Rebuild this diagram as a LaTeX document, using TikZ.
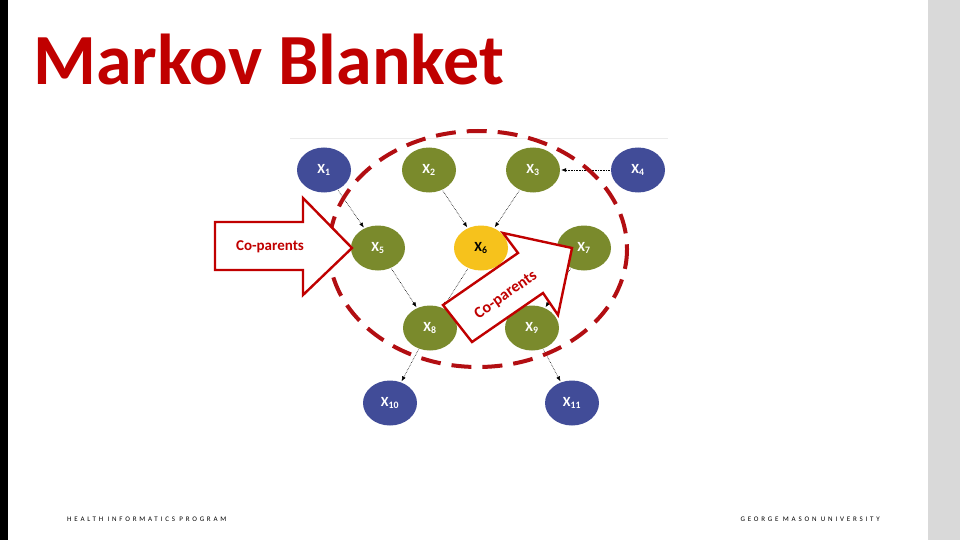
\documentclass[tikz,border=0pt]{standalone}
\usepackage{fontspec}
\setmainfont{Carlito}
\usetikzlibrary{arrows.meta,shapes.geometric}
\definecolor{nblue}{HTML}{414C98}
\definecolor{ngreen}{HTML}{7A8A2C}
\definecolor{nyellow}{HTML}{F6C21C}
\definecolor{mred}{HTML}{C00000}
\definecolor{dred}{HTML}{B20E12}
\tikzset{
  nd/.style={ellipse,minimum width=54pt,minimum height=45pt,inner sep=0pt,text=white,font=\bfseries\fontsize{14}{14}\selectfont},
  bl/.style={nd,fill=nblue}, gr/.style={nd,fill=ngreen}, ye/.style={nd,fill=nyellow,text=black},
  ed/.style={densely dotted,semithick,-{Latex[length=5pt,width=4pt]},shorten >=1pt,shorten <=1pt},
  bigarrow/.style={draw=mred,line width=2.4pt,fill=white,line join=miter}
}
\begin{document}
\begin{tikzpicture}[x=1pt,y=-1pt]
\useasboundingbox (0,0) rectangle (960,540);
\fill[white] (0,0) rectangle (960,540);
\fill[black] (0,0) rectangle (8,540);
\fill[black!15] (928,0) rectangle (960,540);
\node[anchor=base west,text=mred,font=\bfseries\fontsize{72}{72}\selectfont,inner sep=0pt] (title) at (33,85) {Markov Blanket};
\draw[black!8] (290,138) -- (668,138);
\node[bl] (x1) at (324,170) {X\textsubscript{1}};
\node[gr] (x2) at (429,170) {X\textsubscript{2}};
\node[gr] (x3) at (533,170) {X\textsubscript{3}};
\node[bl] (x4) at (638,170) {X\textsubscript{4}};
\node[gr] (x5) at (378,248) {X\textsubscript{5}};
\node[ye] (x6) at (481,248) {X\textsubscript{6}};
\node[gr] (x7) at (584,248) {X\textsubscript{7}};
\node[gr] (x8) at (430,328) {X\textsubscript{8}};
\node[gr] (x9) at (532,328) {X\textsubscript{9}};
\node[bl] (x10) at (390,403) {X\textsubscript{10}};
\node[bl] (x11) at (572,403) {X\textsubscript{11}};
\draw[ed] (x1) -- (x5);
\draw[ed] (x2) -- (x6);
\draw[ed] (x3) -- (x6);
\draw[ed] (x4) -- (x3);
\draw[ed] (x5) -- (x8);
\draw[ed] (x6) -- (x8);
\draw[ed] (x7) -- (x9);
\draw[ed] (x8) -- (x10);
\draw[ed] (x9) -- (x11);
\draw[dred,line width=4pt,dash pattern=on 20pt off 11pt] (478,249) ellipse [x radius=149,y radius=118];
\draw[bigarrow] (215,222) -- (303,222) -- (303,198) -- (352,248) -- (303,295) -- (303,270) -- (215,270) -- cycle;
\node[text=mred,font=\bfseries\fontsize{15}{15}\selectfont] (lab1) at (270,247) {Co-parents};
\draw[bigarrow] (443,305) -- (518,253) -- (503,233) -- (572,248) -- (558,315) -- (543,293) -- (472,342) -- cycle;
\node[text=mred,font=\bfseries\fontsize{16}{16}\selectfont,rotate=35] (lab2) at (506,295) {Co-parents};
\node[anchor=base west,inner sep=0pt,font=\fontsize{7}{7}\selectfont\addfontfeatures{LetterSpace=40}] (f1) at (67,521) {HEALTH INFORMATICS PROGRAM};
\node[anchor=base east,inner sep=0pt,font=\fontsize{7}{7}\selectfont\addfontfeatures{LetterSpace=40}] (f2) at (880,521) {GEORGE MASON UNIVERSITY};
\end{tikzpicture}
\end{document}
